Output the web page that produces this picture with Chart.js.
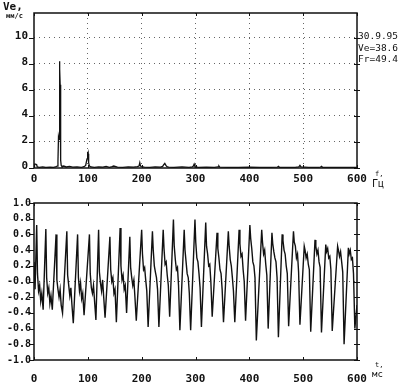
<!DOCTYPE html>
<html>
<head>
<meta charset="utf-8">
<script src="https://cdn.jsdelivr.net/npm/chart.js@4.4.1/dist/chart.umd.min.js"></script>
<style>
  html, body { margin: 0; padding: 0; background: #fff; }
  #wrap { position: relative; width: 413px; height: 384px; overflow: hidden; background: #fff; }
  canvas { position: absolute; left: 0; }
  #spec { top: 0; }
  #wave { top: 190px; }
  .lbl { position: absolute; font-family: 'DejaVu Sans Mono', monospace; color: #111; white-space: nowrap; line-height: 1; }
</style>
</head>
<body>
<div id="wrap">
  <canvas id="spec" width="413" height="190"></canvas>
  <canvas id="wave" width="413" height="194"></canvas>
  <div class="lbl" style="left:3px;top:1px;font-size:11px;font-weight:bold">Ve,</div>
  <div class="lbl" style="left:6px;top:13px;font-size:7px;font-weight:bold">мм/с</div>
  <div class="lbl" style="left:358px;top:31px;font-size:9.5px">30.9.95</div>
  <div class="lbl" style="left:358px;top:43px;font-size:9.5px">Ve=38.6</div>
  <div class="lbl" style="left:358px;top:54px;font-size:9.5px">Fr=49.4</div>
  <div class="lbl" style="left:375px;top:171px;font-size:7px">f,</div>
  <div class="lbl" style="left:372px;top:179px;font-size:10px">Гц</div>
  <div class="lbl" style="left:375px;top:362px;font-size:7px">t,</div>
  <div class="lbl" style="left:372px;top:370px;font-size:9px">мс</div>
</div>
<script>
// spectrum, Hz -> mm/s
const specFreq = [
  0, 1, 3, 5, 6, 10, 16, 22, 30, 36,
  40, 43, 44.5, 45.5, 46.5, 47.3, 48, 48.6, 49.2, 49.8,
  50.5, 52, 55, 60, 66, 72, 80, 88, 93, 96,
  97.5, 98.5, 99.3, 100, 100.7, 101.5, 103, 106, 112, 120,
  128, 134, 140, 145, 148, 155, 165, 175, 185, 192,
  195, 196.5, 197.5, 199, 205, 215, 225, 235, 239, 241,
  243, 245, 247, 250, 260, 275, 288, 294, 296, 297.5,
  299, 305, 320, 335, 342, 343.5, 345, 360, 380, 400,
  420, 440, 452, 454, 456, 470, 485, 492, 494, 496,
  510, 525, 532, 534, 536, 550, 565, 580, 595, 600
];
const specAmp = [
  0.1, 0.3, 0.3, 0.25, 0.08, 0.05, 0.08, 0.04, 0.06, 0.05,
  0.08, 0.15, 0.5, 2.4, 2.2, 8.2, 7.6, 6.4, 2.0, 0.6,
  0.2, 0.1, 0.15, 0.08, 0.12, 0.06, 0.08, 0.05, 0.1, 0.2,
  0.5, 0.7, 1.25, 0.9, 1.1, 0.4, 0.15, 0.08, 0.05, 0.08,
  0.06, 0.12, 0.05, 0.1, 0.15, 0.06, 0.05, 0.08, 0.06, 0.1,
  0.15, 0.4, 0.2, 0.1, 0.06, 0.05, 0.08, 0.06, 0.12, 0.25,
  0.35, 0.2, 0.1, 0.06, 0.05, 0.08, 0.05, 0.08, 0.15, 0.3,
  0.1, 0.05, 0.06, 0.05, 0.08, 0.15, 0.06, 0.05, 0.04, 0.06,
  0.04, 0.05, 0.06, 0.12, 0.05, 0.04, 0.05, 0.08, 0.2, 0.08,
  0.05, 0.04, 0.06, 0.12, 0.05, 0.04, 0.05, 0.04, 0.05, 0.05
];
const specTicksX = [0, 100, 200, 300, 400, 500, 600];

// waveform, ms -> relative units (one row per revolution)
const waveTime = [
  0, 2,
  5, 6.5, 8.5, 10.5, 12.5, 14.5, 17,
  22, 23.5, 25.5, 27.5, 29.5, 31.5, 34,
  41, 42.5, 44.5, 46.5, 48.5, 50.5, 53,
  61, 62.5, 64.5, 66.5, 68.5, 70.5, 73,
  81, 82.5, 84.5, 86.5, 88.5, 90.5, 93,
  103, 104.5, 106.5, 108.5, 110.5, 112.5, 115,
  120, 121.5, 123.5, 125.5, 127.5, 129.5, 132,
  141, 142.5, 144.5, 146.5, 148.5, 150.5, 153,
  160, 161.5, 163.5, 165.5, 167.5, 169.5, 172,
  178, 179.5, 181.5, 183.5, 185.5, 187.5, 190,
  200, 201.5, 203.5, 205.5, 207.5, 209.5, 212,
  220, 221.5, 223.5, 225.5, 227.5, 229.5, 232,
  240, 241.5, 243.5, 245.5, 247.5, 249.5, 252,
  259, 260.5, 262.5, 264.5, 266.5, 268.5, 271,
  279, 280.5, 282.5, 284.5, 286.5, 288.5, 291,
  299, 300.5, 302.5, 304.5, 306.5, 308.5, 311,
  319, 320.5, 322.5, 324.5, 326.5, 328.5, 331,
  340, 341.5, 343.5, 345.5, 347.5, 349.5, 352,
  361, 362.5, 364.5, 366.5, 368.5, 370.5, 373,
  381, 382.5, 384.5, 386.5, 388.5, 390.5, 393,
  401, 402.5, 404.5, 406.5, 408.5, 410.5, 413,
  423, 424.5, 426.5, 428.5, 430.5, 432.5, 435,
  442, 443.5, 445.5, 447.5, 449.5, 451.5, 454,
  461, 462.5, 464.5, 466.5, 468.5, 470.5, 473,
  482, 483.5, 485.5, 487.5, 489.5, 491.5, 494,
  502, 503.5, 505.5, 507.5, 509.5, 511.5, 514,
  522, 523.5, 525.5, 527.5, 529.5, 531.5, 534,
  542, 543.5, 545.5, 547.5, 549.5, 551.5, 554,
  564, 565.5, 567.5, 569.5, 571.5, 573.5, 576,
  584, 585.5, 587.5, 589.5, 591.5, 593.5, 596,
  600
];
const waveValue = [
  0.25, -0.1,
  0.72, 0.10, -0.12, -0.05, -0.25, -0.15, -0.36,
  0.67, 0.05, -0.15, -0.08, -0.28, -0.18, -0.36,
  0.60, 0.02, -0.10, -0.20, -0.10, -0.30, -0.40,
  0.64, 0.08, -0.05, -0.18, -0.08, -0.30, -0.53,
  0.60, 0.05, -0.12, -0.02, -0.22, -0.15, -0.43,
  0.60, 0.10, -0.08, -0.15, -0.05, -0.25, -0.49,
  0.66, 0.12, -0.02, -0.12, 0.02, -0.20, -0.46,
  0.57, 0.15, 0.00, 0.05, -0.15, -0.10, -0.52,
  0.68, 0.20, 0.02, 0.08, -0.10, -0.05, -0.40,
  0.57, 0.18, 0.05, -0.05, 0.02, -0.20, -0.50,
  0.66, 0.35, 0.15, 0.18, 0.02, -0.12, -0.58,
  0.64, 0.40, 0.20, 0.12, 0.05, -0.10, -0.58,
  0.66, 0.42, 0.22, 0.25, 0.08, -0.05, -0.45,
  0.79, 0.45, 0.28, 0.15, 0.18, -0.05, -0.62,
  0.66, 0.40, 0.25, 0.10, 0.05, -0.15, -0.62,
  0.79, 0.50, 0.30, 0.25, 0.10, -0.08, -0.58,
  0.75, 0.45, 0.35, 0.20, 0.22, 0.00, -0.45,
  0.62, 0.42, 0.30, 0.15, 0.10, -0.10, -0.52,
  0.64, 0.45, 0.28, 0.20, 0.05, -0.12, -0.52,
  0.66, 0.48, 0.32, 0.35, 0.15, 0.00, -0.50,
  0.72, 0.55, 0.42, 0.25, 0.20, 0.05, -0.75,
  0.66, 0.50, 0.35, 0.40, 0.22, 0.08, -0.60,
  0.62, 0.48, 0.38, 0.30, 0.25, 0.05, -0.71,
  0.60, 0.52, 0.40, 0.35, 0.20, 0.10, -0.57,
  0.64, 0.50, 0.45, 0.30, 0.35, 0.12, -0.55,
  0.45, 0.40, 0.30, 0.35, 0.22, 0.15, -0.64,
  0.53, 0.45, 0.35, 0.40, 0.25, 0.18, -0.65,
  0.47, 0.38, 0.42, 0.30, 0.32, 0.15, -0.63,
  0.45, 0.40, 0.32, 0.38, 0.25, 0.12, -0.80,
  0.43, 0.35, 0.40, 0.28, 0.30, 0.10, -0.60,
  -0.3
];

const ink = '#111';
const tickFont = { family: 'DejaVu Sans Mono', size: 11, weight: 'bold' };
const smallFont = { family: 'DejaVu Sans Mono', size: 10, weight: 'bold' };

if (specFreq.length !== specAmp.length || waveTime.length !== waveValue.length) {
  console.error('data length mismatch', specFreq.length, specAmp.length, waveTime.length, waveValue.length);
}

// frame round the plot area plus the small tick marks of the printout
const framePlugin = {
  id: 'frame',
  afterDraw(chart) {
    const { ctx, chartArea: a, scales } = chart;
    ctx.save();
    ctx.strokeStyle = ink;
    ctx.lineWidth = 1.5;
    ctx.strokeRect(a.left, a.top, a.right - a.left, a.bottom - a.top);
    ctx.lineWidth = 1;
    ctx.beginPath();
    scales.y.ticks.forEach(t => {
      const py = Math.round(scales.y.getPixelForValue(t.value)) + 0.5;
      ctx.moveTo(a.left - 5, py); ctx.lineTo(a.left, py);
      ctx.moveTo(a.right - 3, py); ctx.lineTo(a.right + 3, py);
    });
    scales.x.ticks.forEach(t => {
      const px = Math.round(scales.x.getPixelForValue(t.value)) + 0.5;
      ctx.moveTo(px, a.top); ctx.lineTo(px, a.top + 3);
      ctx.moveTo(px, a.bottom); ctx.lineTo(px, a.bottom - 3);
    });
    ctx.stroke();
    ctx.restore();
  }
};

function toPoints(xs, ys) {
  return xs.map((x, i) => ({ x: x, y: ys[i] }));
}

new Chart(document.getElementById('spec'), {
  type: 'line',
  data: {
    datasets: [{
      data: toPoints(specFreq, specAmp),
      borderColor: ink,
      borderWidth: 1.3,
      pointRadius: 0,
      tension: 0
    }]
  },
  options: {
    responsive: false,
    animation: false,
    devicePixelRatio: 1,
    layout: { padding: { top: 13, right: 56, bottom: 0, left: 0 } },
    plugins: { legend: { display: false }, tooltip: { enabled: false } },
    scales: {
      x: {
        type: 'linear', min: 0, max: 600,
        afterBuildTicks: s => { s.ticks = specTicksX.map(v => ({ value: v })); },
        afterFit: s => { s.height = 22; },
        ticks: { font: tickFont, color: ink, padding: 5, maxRotation: 0, autoSkip: false },
        grid: {
          drawTicks: false,
          color: c => (c.tick && c.tick.value > 0 && c.tick.value < 600) ? '#666' : 'rgba(0,0,0,0)'
        },
        border: { display: false, dash: [1, 4] }
      },
      y: {
        min: 0, max: 11.9,
        afterFit: s => { s.width = 34; },
        ticks: { stepSize: 2, includeBounds: false, font: tickFont, color: ink, padding: 6, labelOffset: -2, autoSkip: false },
        grid: {
          drawTicks: false,
          color: c => (c.tick && c.tick.value > 0) ? '#666' : 'rgba(0,0,0,0)'
        },
        border: { display: false, dash: [1, 4] }
      }
    }
  },
  plugins: [framePlugin]
});

new Chart(document.getElementById('wave'), {
  type: 'line',
  data: {
    datasets: [{
      data: toPoints(waveTime, waveValue),
      borderColor: ink,
      borderWidth: 1.4,
      pointRadius: 0,
      tension: 0
    }]
  },
  options: {
    responsive: false,
    animation: false,
    devicePixelRatio: 1,
    layout: { padding: { top: 13, right: 56, bottom: 0, left: 0 } },
    plugins: { legend: { display: false }, tooltip: { enabled: false } },
    scales: {
      x: {
        type: 'linear', min: 0, max: 600,
        afterBuildTicks: s => { s.ticks = specTicksX.map(v => ({ value: v })); },
        afterFit: s => { s.height = 24; },
        ticks: { font: tickFont, color: ink, padding: 5, maxRotation: 0, autoSkip: false },
        grid: { display: false },
        border: { display: false }
      },
      y: {
        min: -1, max: 1,
        afterFit: s => { s.width = 34; },
        ticks: {
          stepSize: 0.2, font: smallFont, color: ink, padding: 3, autoSkip: false,
          callback: v => Math.abs(v) < 1e-6 ? '-0.0' : v.toFixed(1)
        },
        grid: {
          drawTicks: false,
          color: c => (c.tick && Math.abs(c.tick.value) < 1e-6) ? '#666' : 'rgba(0,0,0,0)'
        },
        border: { display: false, dash: [1, 4] }
      }
    }
  },
  plugins: [framePlugin]
});
</script>
</body>
</html>
